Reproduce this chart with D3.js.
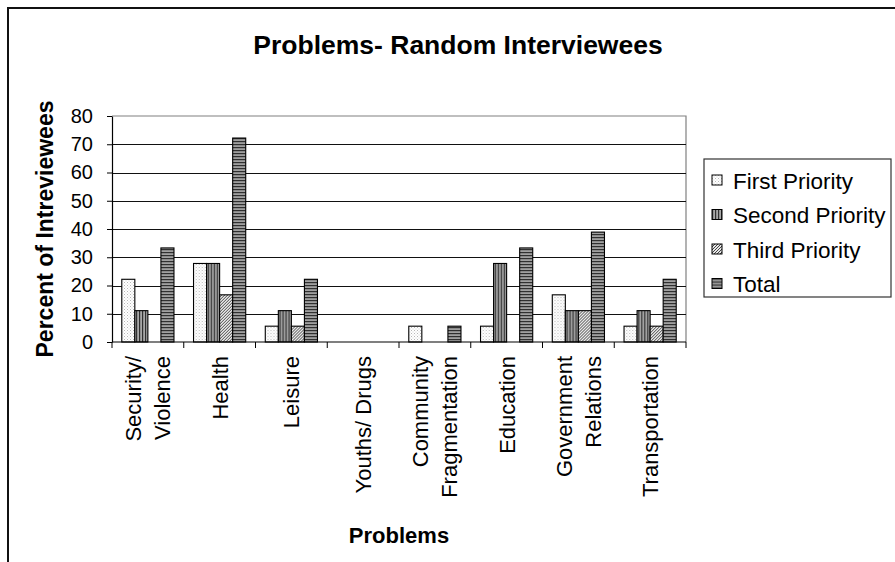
<!DOCTYPE html>
<html>
<head>
<meta charset="utf-8">
<script src="https://cdn.jsdelivr.net/npm/d3@7"></script>
<style>
  html, body { margin: 0; padding: 0; background: #fff; }
  svg text { font-family: Arial, "Liberation Sans", sans-serif; fill: #000; }
</style>
</head>
<body>
<svg id="chart" width="895" height="562"></svg>
<script>
// Problems named by random interviewees, percent per priority level
const categories = [
  "Security/\nViolence", "Health", "Leisure", "Youths/ Drugs",
  "Community\nFragmentation", "Education", "Government\nRelations", "Transportation"
];
const seriesNames = ["First Priority", "Second Priority", "Third Priority", "Total"];
const firstPriority  = [22.2, 27.8, 5.6, 0, 5.6, 5.6, 16.7, 5.6];
const secondPriority = [11.1, 27.8, 11.1, 0, 0, 27.8, 11.1, 11.1];
const thirdPriority  = [0, 16.7, 5.6, 0, 0, 0, 11.1, 5.6];
const totalValues    = [33.3, 72.2, 22.2, 0, 5.6, 33.3, 38.9, 22.2];
const yTicks = [0, 10, 20, 30, 40, 50, 60, 70, 80];

const seriesValues = [firstPriority, secondPriority, thirdPriority, totalValues];

const svg = d3.select("#chart");
const W = 895, H = 562;
const plot = { left: 112, right: 686, top: 116, bottom: 342 };

// Fill patterns for the four series
const defs = svg.append("defs");
function pat(id, w, h, build) {
  const p = defs.append("pattern").attr("id", id).attr("patternUnits", "userSpaceOnUse")
    .attr("width", w).attr("height", h);
  build(p);
}
pat("pFirst", 3, 3, p => {
  p.append("rect").attr("width", 3).attr("height", 3).attr("fill", "#fff");
  p.append("rect").attr("x", 0).attr("y", 0).attr("width", 1).attr("height", 1).attr("fill", "#b8b8b8");
  p.append("rect").attr("x", 1.5).attr("y", 1.5).attr("width", 1).attr("height", 1).attr("fill", "#d0d0d0");
});
pat("pSecond", 3, 3, p => {
  p.append("rect").attr("width", 3).attr("height", 3).attr("fill", "#a8a8a8");
  p.append("rect").attr("x", 0).attr("y", 0).attr("width", 1.2).attr("height", 3).attr("fill", "#303030");
});
pat("pThird", 3, 3, p => {
  p.append("rect").attr("width", 3).attr("height", 3).attr("fill", "#e8e8e8");
  p.append("path").attr("d", "M-1,1 L1,-1 M0,3 L3,0 M2,4 L4,2").attr("stroke", "#303030").attr("stroke-width", 0.9);
});
pat("pTotal", 3, 3, p => {
  p.append("rect").attr("width", 3).attr("height", 3).attr("fill", "#a0a0a0");
  p.append("rect").attr("x", 0).attr("y", 0).attr("width", 3).attr("height", 1.2).attr("fill", "#303030");
});
const fills = ["url(#pFirst)", "url(#pSecond)", "url(#pThird)", "url(#pTotal)"];

// Outer chart frame
svg.append("rect").attr("x", 8).attr("y", 8).attr("width", W + 20).attr("height", H + 20)
  .attr("fill", "#fff").attr("stroke", "#111").attr("stroke-width", 2);

// Title
svg.append("text").attr("x", 458).attr("y", 54).attr("text-anchor", "middle")
  .attr("font-size", 26.5).attr("font-weight", "bold").text("Problems- Random Interviewees");

// Scales
const x0 = d3.scaleBand().domain(d3.range(categories.length)).range([plot.left, plot.right]);
const bw = x0.bandwidth();
const gap = bw * 1.5 / 5.5;
const x1 = d3.scaleBand().domain(d3.range(seriesNames.length)).range([gap / 2, bw - gap / 2]);
const y = d3.scaleLinear().domain([0, 80]).range([plot.bottom, plot.top]);

// Plot area border (top and right) and gridlines
svg.append("path")
  .attr("d", `M${plot.left},${plot.top}H${plot.right}V${plot.bottom}`)
  .attr("fill", "none").attr("stroke", "#808080").attr("stroke-width", 1.2);
svg.append("g").selectAll("line").data(yTicks.filter(t => t > 0 && t < 80)).join("line")
  .attr("x1", plot.left).attr("x2", plot.right)
  .attr("y1", d => Math.round(y(d)) + 0.5).attr("y2", d => Math.round(y(d)) + 0.5)
  .attr("stroke", "#111").attr("stroke-width", 1);

// Bars
const groups = svg.append("g").selectAll("g").data(categories).join("g")
  .attr("transform", (d, i) => `translate(${x0(i)},0)`);
groups.selectAll("rect")
  .data((d, i) => seriesValues.map((vals, s) => ({ s, v: vals[i] })).filter(e => e.v > 0))
  .join("rect")
  .attr("x", e => x1(e.s))
  .attr("width", x1.bandwidth())
  .attr("y", e => y(e.v))
  .attr("height", e => y(0) - y(e.v))
  .attr("fill", e => fills[e.s])
  .attr("stroke", "#000").attr("stroke-width", 1.1);

// Y axis
const yAxis = svg.append("g").attr("transform", `translate(${plot.left},0)`)
  .call(d3.axisLeft(y).tickValues(yTicks).tickSize(5).tickPadding(14).tickSizeOuter(0));
yAxis.select(".domain").attr("stroke", "#000").attr("stroke-width", 1.2);
yAxis.selectAll(".tick line").attr("stroke", "#000");
yAxis.selectAll(".tick text").attr("font-size", 20).attr("font-family", "Arial, 'Liberation Sans', sans-serif")
  .attr("fill", "#000");

// X axis with ticks at category boundaries
svg.append("line").attr("x1", plot.left).attr("x2", plot.right)
  .attr("y1", plot.bottom).attr("y2", plot.bottom).attr("stroke", "#000").attr("stroke-width", 1.2);
const bounds = d3.range(categories.length + 1).map(i => plot.left + i * bw);
svg.append("g").selectAll("line").data(bounds).join("line")
  .attr("x1", d => d).attr("x2", d => d)
  .attr("y1", plot.bottom).attr("y2", plot.bottom + 6)
  .attr("stroke", "#000");

// Category labels, rotated, multi-line
const fsX = 22, lineH = 29;
svg.append("g").selectAll("text").data(categories).join("text")
  .attr("transform", (d, i) => `translate(${x0(i) + bw / 2},356) rotate(-90)`)
  .attr("text-anchor", "end")
  .attr("font-size", fsX)
  .each(function(d) {
    const lines = d.split("\n");
    const n = lines.length;
    d3.select(this).selectAll("tspan").data(lines).join("tspan")
      .attr("x", 0)
      .attr("y", (l, k) => (k - (n - 1) / 2) * lineH + 0.36 * fsX)
      .text(l => l);
  });

// Axis titles
svg.append("text").attr("x", (plot.left + plot.right) / 2).attr("y", 543)
  .attr("text-anchor", "middle").attr("font-size", 22).attr("font-weight", "bold").text("Problems");
svg.append("text").attr("transform", `translate(53,${(plot.top + plot.bottom) / 2}) rotate(-90)`)
  .attr("text-anchor", "middle").attr("font-size", 23).attr("font-weight", "bold")
  .text("Percent of Intreviewees");

// Legend
const lg = svg.append("g");
lg.append("rect").attr("x", 704).attr("y", 159).attr("width", 187).attr("height", 138)
  .attr("fill", "#fff").attr("stroke", "#333").attr("stroke-width", 1.2);
const items = lg.selectAll("g").data(seriesNames).join("g")
  .attr("transform", (d, i) => `translate(712,${181 + i * 34.5})`);
items.append("rect").attr("x", 0).attr("y", -6).attr("width", 10).attr("height", 10)
  .attr("fill", (d, i) => fills[i]).attr("stroke", "#000").attr("stroke-width", 1);
items.append("text").attr("x", 21).attr("y", 7.5).attr("font-size", 22.5).text(d => d);
</script>
</body>
</html>
